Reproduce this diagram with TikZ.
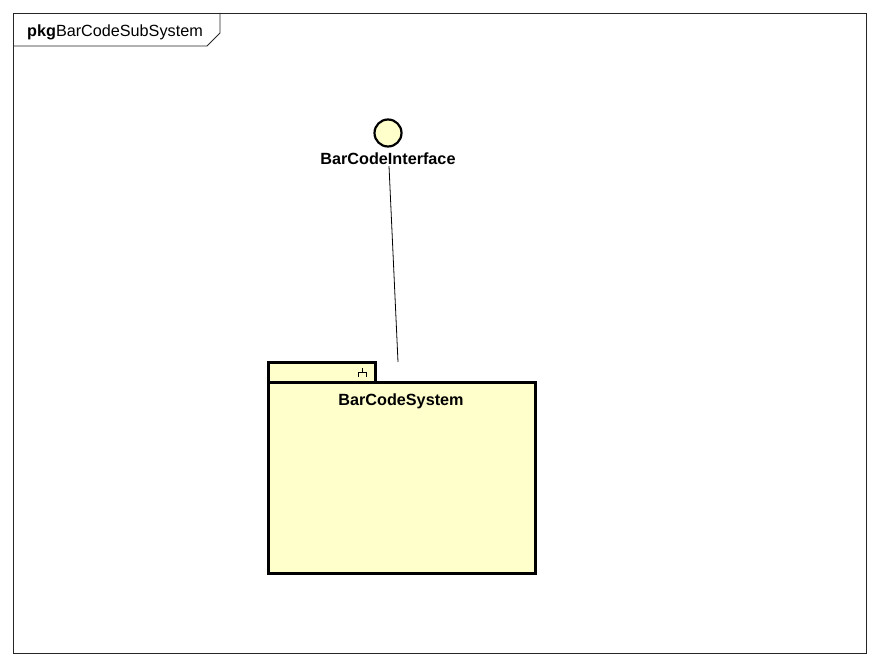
\documentclass[tikz,border=0pt]{standalone}
\usepackage{fontspec}
\setmainfont{Liberation Sans}
\definecolor{umlfill}{HTML}{FFFFCC}
\begin{document}
\begin{tikzpicture}[x=1pt,y=-1pt,
  lbl/.style={font=\fontsize{16.2}{19}\selectfont\bfseries, inner sep=0pt, anchor=base},
  thick border/.style={draw=black, line width=3pt, fill=umlfill}]
\useasboundingbox (0,0) rectangle (880,666);
% frame
\draw[line width=0.9pt, draw=black!85] (13,13) rectangle (866,653);
\draw[line width=0.9pt, draw=black!85] (13,46) -- (207,46) -- (220,33) -- (220,13);
\node[inner sep=0pt, anchor=base west, font=\fontsize{16.2}{19}\selectfont] (title) at (27,37) {\textbf{pkg}BarCodeSubSystem};
% interface
\node[circle, draw=black, line width=2.2pt, fill=umlfill, minimum size=27pt, inner sep=0pt] (iface) at (388,133) {};
\node[lbl] (ifacelbl) at (388,164) {BarCodeInterface};
% package
\draw[thick border] (268,382) rectangle (375,362);
\node[thick border, rectangle, minimum width=267pt, minimum height=191pt, anchor=north west, inner sep=0pt, outer sep=0pt] (pkg) at (268,382) {};
\node[lbl] (pkglbl) at (401,405) {BarCodeSystem};
\draw[line width=0.8pt] (362,368) -- (362,372) (358,377) -- (358,372) -- (366,372) -- (366,377);
\coordinate (tabtop) at (398,362);
\coordinate (lblbot) at (389,166);
\draw[line width=0.8pt] (lblbot) -- (tabtop);
\end{tikzpicture}
\end{document}
